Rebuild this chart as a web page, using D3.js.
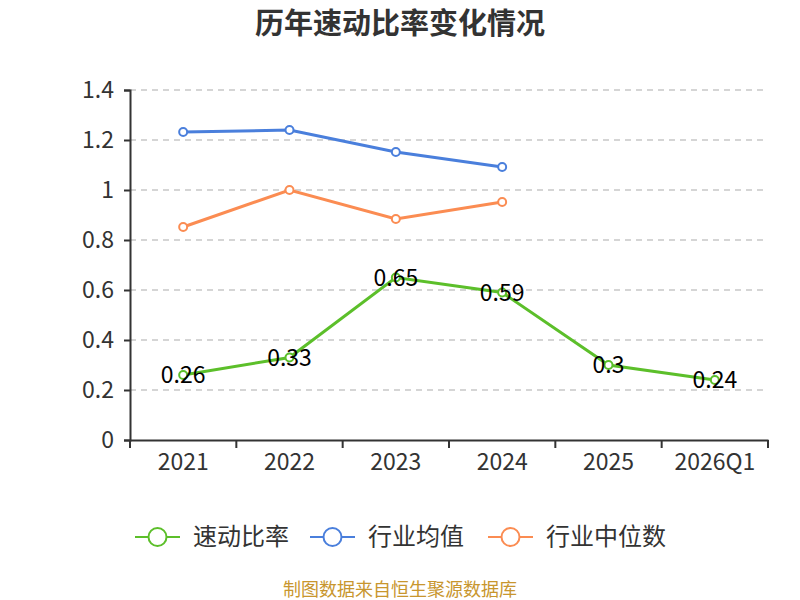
<!DOCTYPE html>
<html><head><meta charset="utf-8">
<script src="https://cdn.jsdelivr.net/npm/d3@7"></script>
<style>body{margin:0;background:#fff;font-family:"Noto Sans CJK SC","Noto Sans",sans-serif;}</style>
</head><body><svg id="c" width="800" height="600"></svg>
<script>
const categories = ["2021","2022","2023","2024","2025","2026Q1"];
const quickRatio = [0.26,0.33,0.65,0.59,0.3,0.24];
const industryMean = [1.232,1.24,1.152,1.092];
const industryMedian = [0.852,1.0,0.884,0.952];
const yTicks = [0,0.2,0.4,0.6,0.8,1,1.2,1.4];
const seriesNames = ["速动比率","行业均值","行业中位数"];
const colors = ["#5cbf2a","#4a7fdc","#fb8c52"];

(function(){
const svg = d3.select("#c");
const font = '"Noto Sans CJK SC","Noto Sans",sans-serif';
const pLeft=130, pRight=768, pTop=90, pBottom=440;
const x = d3.scaleBand().domain(categories).range([pLeft,pRight]);
const y = d3.scaleLinear().domain([0,1.4]).range([pBottom,pTop]);

svg.append("text").attr("x",400).attr("y",34).attr("text-anchor","middle")
  .attr("font-family",font).attr("font-size",29).attr("font-weight","bold").attr("fill","#333")
  .text("历年速动比率变化情况");

svg.append("g").selectAll("line").data(yTicks.filter(d=>d>0)).join("line")
  .attr("x1",pLeft).attr("x2",pRight).attr("y1",d=>y(d)).attr("y2",d=>y(d))
  .attr("stroke","#c8c8c8").attr("stroke-dasharray","6,5").attr("stroke-width",1.5);

const ya = svg.append("g").attr("transform",`translate(${pLeft},0)`)
  .call(d3.axisLeft(y).tickValues(yTicks).tickFormat(d=>String(d)).tickSize(6).tickPadding(10));
ya.select(".domain").attr("stroke","#333").attr("stroke-width",2);
ya.selectAll(".tick line").attr("stroke","#333").attr("stroke-width",2);
ya.selectAll("text").attr("font-family",font).attr("font-size",23).attr("fill","#333");

const xa = svg.append("g").attr("transform",`translate(0,${pBottom})`)
  .call(d3.axisBottom(x).tickSize(0).tickPadding(14));
xa.select(".domain").attr("stroke","#333").attr("stroke-width",2);
xa.selectAll("text").attr("font-family",font).attr("font-size",23).attr("fill","#333").attr("dy","0.71em");
const bounds = categories.map(c=>x(c)).concat([pRight]);
xa.selectAll(".btick").data(bounds).join("line").attr("class","btick")
  .attr("x1",d=>d).attr("x2",d=>d).attr("y1",0).attr("y2",8).attr("stroke","#333").attr("stroke-width",2);

const cx = c => x(c)+x.bandwidth()/2;
const line = d3.line().x(d=>cx(d.c)).y(d=>y(d.v));
function drawSeries(vals,color){
  const data = vals.map((v,i)=>({c:categories[i],v}));
  svg.append("path").datum(data).attr("d",line).attr("fill","none").attr("stroke",color).attr("stroke-width",3);
  svg.append("g").selectAll("circle").data(data).join("circle")
    .attr("cx",d=>cx(d.c)).attr("cy",d=>y(d.v)).attr("r",4)
    .attr("fill","#fff").attr("stroke",color).attr("stroke-width",2);
  return data;
}
drawSeries(industryMean,colors[1]);
drawSeries(industryMedian,colors[2]);
const qd = drawSeries(quickRatio,colors[0]);
svg.append("g").selectAll("text").data(qd).join("text")
  .attr("x",d=>cx(d.c)).attr("y",d=>y(d.v)).attr("dy","0.35em").attr("text-anchor","middle")
  .attr("font-family",font).attr("font-size",23).attr("fill","#000").text(d=>String(d.v));

const legX = [135,310,488];
seriesNames.forEach((n,i)=>{
  const g = svg.append("g").attr("transform",`translate(${legX[i]},537)`);
  g.append("line").attr("x1",0).attr("x2",45).attr("stroke",colors[i]).attr("stroke-width",2);
  g.append("circle").attr("cx",22.5).attr("cy",0).attr("r",9).attr("fill","#fff").attr("stroke",colors[i]).attr("stroke-width",2);
  g.append("text").attr("x",58).attr("y",0).attr("dy","0.35em").attr("font-family",font).attr("font-size",24).attr("fill","#333").text(n);
});

svg.append("text").attr("x",400).attr("y",596).attr("text-anchor","middle")
  .attr("font-family",font).attr("font-size",18).attr("fill","#c8962e").text("制图数据来自恒生聚源数据库");
})();
</script></body></html>
